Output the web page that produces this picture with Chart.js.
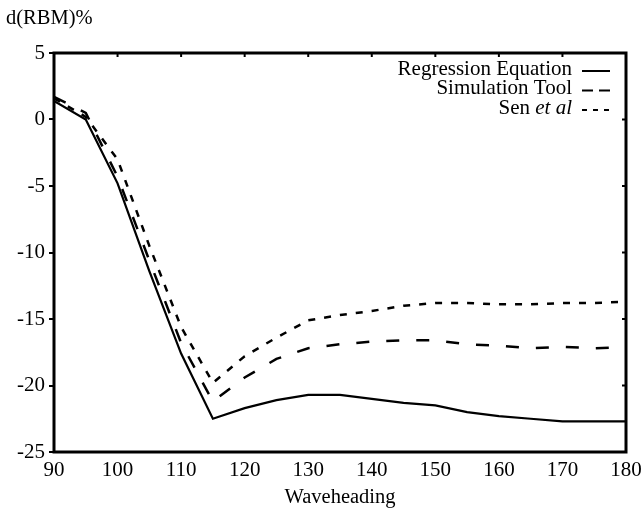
<!DOCTYPE html>
<html lang="en">
<head>
    <meta charset="UTF-8">
    <title>d(RBM)% vs Waveheading</title>
    <script src="https://cdn.jsdelivr.net/npm/chart.js@4.4.0/dist/chart.umd.min.js"></script>
    <style>
        html, body { margin: 0; padding: 0; background: #fff; }
        #wrap { width: 643px; height: 512px; position: relative; }
    </style>
</head>
<body>
    <div id="wrap">
        <canvas id="rbmChart" width="643" height="512"></canvas>
    </div>

    <script>
        // wave heading (deg)
        const waveheading = [90, 95, 100, 105, 110, 115, 120, 125, 130, 135, 140, 145, 150, 155, 160, 165, 170, 175, 180];

        // d(RBM)% per method
        const regression = [1.4, 0.0, -4.8, -11.4, -17.6, -22.5, -21.7, -21.1, -20.7, -20.7, -21.0, -21.3, -21.5, -22.0, -22.3, -22.5, -22.7, -22.7, -22.7];
        const simulation = [1.7, 0.5, -4.3, -10.6, -16.8, -21.2, -19.4, -18.0, -17.2, -16.9, -16.7, -16.6, -16.6, -16.9, -17.0, -17.2, -17.1, -17.2, -17.1];
        const sen = [1.6, 0.2, -3.0, -9.5, -15.6, -19.8, -17.8, -16.4, -15.1, -14.7, -14.4, -14.0, -13.8, -13.8, -13.9, -13.9, -13.8, -13.8, -13.7];

        const xTicks = [90, 100, 110, 120, 130, 140, 150, 160, 170, 180];
        const yTicks = [5, 0, -5, -10, -15, -20, -25];

        const serif = "'Liberation Serif', 'DejaVu Serif', serif";

        const toPoints = arr => arr.map((v, i) => ({ x: waveheading[i], y: v }));

        // legend entries: text parts (italic flag) + dash pattern
        const legendItems = [
            { parts: [['Regression Equation', false]], dash: [] },
            { parts: [['Simulation Tool', false]], dash: [11, 6] },
            { parts: [['Sen ', false], ['et al', true]], dash: [5, 6] }
        ];

        // frame, inward ticks, y title and legend
        const decorPlugin = {
            id: 'decor',
            afterDraw(chart) {
                const ctx = chart.ctx;
                const a = chart.chartArea;
                const xs = chart.scales.x, ys = chart.scales.y;
                ctx.save();
                ctx.strokeStyle = '#000';

                // inward ticks on top and right
                ctx.lineWidth = 2;
                xTicks.forEach(t => {
                    const px = xs.getPixelForValue(t);
                    ctx.beginPath();
                    ctx.moveTo(px, a.top);
                    ctx.lineTo(px, a.top + 4);
                    ctx.stroke();
                });
                yTicks.forEach(t => {
                    const py = ys.getPixelForValue(t);
                    ctx.beginPath();
                    ctx.moveTo(a.right, py);
                    ctx.lineTo(a.right - 4, py);
                    ctx.stroke();
                });

                // box
                ctx.lineWidth = 3;
                ctx.strokeRect(a.left, a.top, a.right - a.left, a.bottom - a.top);

                // y title
                ctx.fillStyle = '#000';
                ctx.font = '20.5px ' + serif;
                ctx.textAlign = 'left';
                ctx.textBaseline = 'middle';
                ctx.fillText('d(RBM)%', 6, 19);

                // legend
                const textRight = 572, lineX0 = 582, lineX1 = 610;
                legendItems.forEach((item, i) => {
                    const y = 69 + i * 19.5;
                    let w = 0;
                    item.parts.forEach(p => {
                        ctx.font = (p[1] ? 'italic ' : '') + '21px ' + serif;
                        w += ctx.measureText(p[0]).width;
                    });
                    let x = textRight - w;
                    ctx.textAlign = 'left';
                    item.parts.forEach(p => {
                        ctx.font = (p[1] ? 'italic ' : '') + '21px ' + serif;
                        ctx.fillText(p[0], x, y);
                        x += ctx.measureText(p[0]).width;
                    });
                    ctx.lineWidth = 2;
                    ctx.setLineDash(item.dash);
                    ctx.beginPath();
                    ctx.moveTo(lineX0, y + 2);
                    ctx.lineTo(lineX1, y + 2);
                    ctx.stroke();
                    ctx.setLineDash([]);
                });
                ctx.restore();
            }
        };

        const ctx = document.getElementById('rbmChart').getContext('2d');
        const rbmChart = new Chart(ctx, {
            type: 'line',
            data: {
                datasets: [
                    {
                        label: 'Regression Equation',
                        data: toPoints(regression),
                        borderColor: '#000',
                        borderWidth: 2.2,
                        pointRadius: 0,
                        tension: 0
                    },
                    {
                        label: 'Simulation Tool',
                        data: toPoints(simulation),
                        borderColor: '#000',
                        borderWidth: 2.5,
                        borderDash: [13, 17],
                        pointRadius: 0,
                        tension: 0
                    },
                    {
                        label: 'Sen et al',
                        data: toPoints(sen),
                        borderColor: '#000',
                        borderWidth: 2.5,
                        borderDash: [7, 9],
                        pointRadius: 0,
                        tension: 0
                    }
                ]
            },
            options: {
                responsive: false,
                animation: false,
                layout: { padding: { left: 0, right: 17, top: 53, bottom: 0 } },
                plugins: {
                    legend: { display: false },
                    tooltip: { enabled: false }
                },
                scales: {
                    x: {
                        type: 'linear',
                        min: 90,
                        max: 180,
                        afterBuildTicks: axis => { axis.ticks = xTicks.map(v => ({ value: v })); },
                        afterFit: axis => {
                            axis.height = 60;
                            axis.paddingLeft = 0;
                            axis.paddingRight = 0;
                        },
                        border: { display: false },
                        grid: { drawOnChartArea: false, drawTicks: false },
                        ticks: {
                            color: '#000',
                            padding: 6,
                            maxRotation: 0,
                            font: { family: serif, size: 21 }
                        },
                        title: {
                            display: true,
                            text: 'Waveheading',
                            color: '#000',
                            padding: { top: 0, bottom: 2 },
                            font: { family: serif, size: 20.5 }
                        }
                    },
                    y: {
                        type: 'linear',
                        min: -25,
                        max: 5,
                        afterBuildTicks: axis => { axis.ticks = yTicks.map(v => ({ value: v })); },
                        afterFit: axis => { axis.width = 54; },
                        border: { display: false },
                        grid: {
                            drawOnChartArea: false,
                            drawTicks: true,
                            tickLength: 5,
                            color: '#000',
                            lineWidth: 2
                        },
                        ticks: {
                            color: '#000',
                            padding: 4,
                            font: { family: serif, size: 21 }
                        }
                    }
                }
            },
            plugins: [decorPlugin]
        });
    </script>
</body>
</html>
